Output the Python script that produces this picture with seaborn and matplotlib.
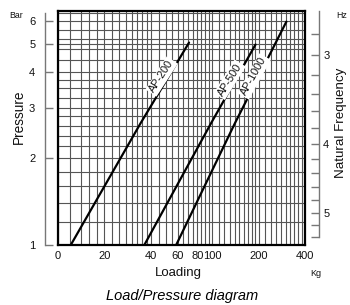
import numpy as np
import pandas as pd
import matplotlib
matplotlib.use("Agg")
import matplotlib.pyplot as plt
import seaborn as sns
from matplotlib.ticker import FixedLocator, FixedFormatter, NullFormatter

# Load (kg) / pressure (bar) points.
ap200_load = [12.1, 34.2, 70.8]
ap200_pressure = [1.0, 2.64, 5.05]
ap500_load = [36.3, 98.0, 191.0]
ap500_pressure = [1.0, 2.64, 4.97]
ap1000_load = [58.4, 140.0, 303.0]
ap1000_pressure = [1.0, 2.64, 5.97]
models = ["AP-200", "AP-500", "AP-1000"]

# Where the model names sit on the chart.
label_load = [47, 130, 187]
label_pressure = [3.85, 3.75, 3.85]
label_angle = [57, 58, 61]

# Axis ticks.
load_ticks = [10, 20, 40, 60, 80, 100, 200, 400]
load_tick_labels = ["0", "20", "40", "60", "80", "100", "200", "400"]
pressure_ticks = [1, 2, 3, 4, 5, 6]
pressure_tick_labels = ["1", "2", "3", "4", "5", "6"]
freq_ticks = [3, 4, 5]
freq_tick_labels = ["3", "4", "5"]
freq_minor = [2.6, 2.8, 3.2, 3.4, 3.6, 3.8, 4.2, 4.4, 4.6, 4.8, 5.2, 5.4]

# Chart paper grid.
grid_loads = np.concatenate([
    np.arange(10, 20, 2), np.arange(20, 40, 2.5), np.arange(40, 100, 5),
    np.arange(100, 200, 10), np.arange(200, 401, 20)])
grid_pressures = np.concatenate([
    np.arange(1, 3, 0.2), np.arange(3, 4, 0.25), np.arange(4, 6.5, 0.4)])

# Natural frequency vs pressure (fitted to the right hand scale).
FREQ_A = 5.55
FREQ_B = 0.405


def pressure_to_freq(p):
    p = np.clip(np.asarray(p, dtype=float), 1e-6, None)
    return FREQ_A * p ** (-FREQ_B)


def freq_to_pressure(f):
    f = np.clip(np.asarray(f, dtype=float), 1e-6, None)
    return (f / FREQ_A) ** (-1.0 / FREQ_B)


curves_df = pd.DataFrame({
    "load": ap200_load + ap500_load + ap1000_load,
    "pressure": ap200_pressure + ap500_pressure + ap1000_pressure,
    "model": [models[0]] * 3 + [models[1]] * 3 + [models[2]] * 3,
})

sns.set_style("white")
plt.rcParams["font.family"] = ["Liberation Sans", "DejaVu Sans"]

fig = plt.figure(figsize=(3.5, 3.05), dpi=100)
ax = fig.add_axes([58 / 350, 1 - 245 / 305, 247 / 350, 234 / 305])

ax.set_xscale("log")
ax.set_yscale("log")
ax.set_xlim(10, 400)
ax.set_ylim(1, 6.5)

# Grid.
ax.set_xticks(grid_loads, minor=True)
ax.set_yticks(grid_pressures, minor=True)
ax.xaxis.set_minor_formatter(NullFormatter())
ax.yaxis.set_minor_formatter(NullFormatter())
ax.grid(which="both", color="#555555", linewidth=0.8)
ax.set_axisbelow(True)

# Curves.
sns.lineplot(data=curves_df, x="load", y="pressure", units="model",
             estimator=None, color="black", linewidth=1.6, ax=ax,
             legend=False, zorder=3)

for name, lx, ly, ang in zip(models, label_load, label_pressure, label_angle):
    ax.text(lx, ly, name, rotation=ang, ha="center", va="center",
            fontsize=7.8, zorder=4, color="#111111",
            bbox=dict(facecolor="white", edgecolor="none", pad=1.2))

# Frame and bottom labels.
for spine in ax.spines.values():
    spine.set_visible(True)
    spine.set_color("black")
    spine.set_linewidth(1.6)
ax.set_xticks(load_ticks)
ax.set_xticklabels(load_tick_labels)
ax.set_yticks(pressure_ticks)
ax.set_yticklabels([])
ax.tick_params(axis="x", which="both", length=0, pad=4, labelsize=8,
               colors="#111111")
ax.tick_params(axis="y", which="both", length=0)
ax.set_xlabel("")
ax.set_ylabel("")

# Pressure scale, detached on the left.
left = ax.secondary_yaxis(-13 / 247)
left.yaxis.set_major_locator(FixedLocator(pressure_ticks))
left.yaxis.set_major_formatter(FixedFormatter(pressure_tick_labels))
left.yaxis.set_minor_locator(FixedLocator([]))
left.yaxis.set_minor_formatter(NullFormatter())
left.spines["left"].set_bounds(1, 6.4)
left.spines["left"].set_color("#777777")
left.spines["left"].set_linewidth(1.0)
left.tick_params(axis="y", which="major", direction="in", length=6,
                 width=1.0, color="#777777", pad=7, labelsize=8,
                 labelcolor="#111111")

# Natural frequency scale, detached on the right.
right = ax.secondary_yaxis(1 + 14 / 247,
                           functions=(pressure_to_freq, freq_to_pressure))
right.yaxis.set_major_locator(FixedLocator(freq_ticks))
right.yaxis.set_major_formatter(FixedFormatter(freq_tick_labels))
right.yaxis.set_minor_locator(FixedLocator(freq_minor))
right.yaxis.set_minor_formatter(NullFormatter())
right.spines["right"].set_bounds(2.6, 5.4)
right.spines["right"].set_color("#777777")
right.spines["right"].set_linewidth(1.0)
right.tick_params(axis="y", which="both", direction="in", length=5.5,
                  width=1.0, color="#777777", pad=3, labelsize=8,
                  labelcolor="#111111")

# Axis titles and units.
fig.text(19 / 350, 1 - 117 / 305, "Pressure", rotation=90, ha="center",
         va="center", fontsize=9.8, color="#111111")
fig.text(341 / 350, 1 - 123 / 305, "Natural Frequency", rotation=90,
         ha="center", va="center", fontsize=9.6, color="#111111")
fig.text(16 / 350, 1 - 15 / 305, "Bar", ha="center", va="center",
         fontsize=6.3, color="#111111")
fig.text(342 / 350, 1 - 16 / 305, "Hz", ha="center", va="center",
         fontsize=6.3, color="#111111")
fig.text(178 / 350, 1 - 273 / 305, "Loading", ha="center", va="center",
         fontsize=9.5, color="#111111")
fig.text(316 / 350, 1 - 273 / 305, "Kg", ha="center", va="center",
         fontsize=6.5, color="#111111")
fig.text(182 / 350, 1 - 296 / 305, "Load/Pressure diagram", ha="center",
         va="center", fontsize=10.5, style="italic", color="black")

fig.savefig("out.png", dpi=100)
